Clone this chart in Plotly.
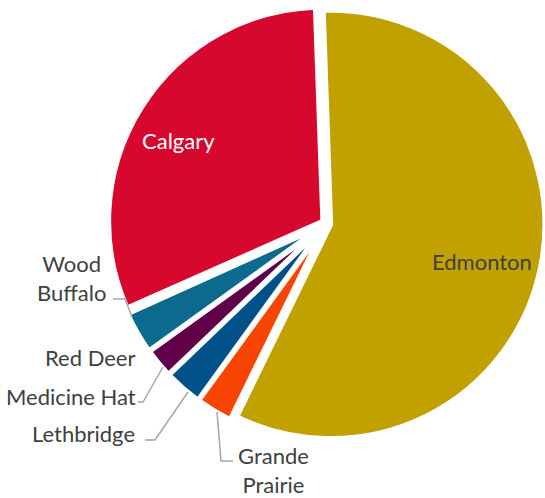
import plotly.graph_objects as go

# ---- data ----
cities = ["Edmonton", "Grande Prairie", "Lethbridge", "Medicine Hat",
          "Red Deer", "Wood Buffalo", "Calgary"]
shares = [57.8, 2.75, 2.86, 2.22, 3.19, 0.1, 31.1]
colors = ["#C1A100", "#F54500", "#00508A", "#5F0049",
          "#0B6A8E", "#E8A0B4", "#D6082E"]

W, H = 545, 498
FONT = "Lato"
FS = 22
GREY = "#404040"


def px(x, y):
    return x / W, 1 - y / H


fig = go.Figure(go.Pie(
    labels=cities, values=shares, sort=False, direction="clockwise",
    rotation=-2, pull=0.02,
    marker=dict(colors=colors, line=dict(color="white", width=5)),
    textinfo="none", hoverinfo="label+percent", showlegend=False,
    domain=dict(x=[108 / W, 1], y=[1 - 442 / H, 1 - 5 / H]),
))

labels = [
    # text, x, y, xanchor, color
    ("Calgary", 178, 141, "center", "white"),
    ("Edmonton", 482, 261, "center", GREY),
    ("Wood<br>Buffalo", 71.5, 277.5, "center", GREY),
    ("Red Deer", 137, 357, "right", GREY),
    ("Medicine Hat", 138, 396, "right", GREY),
    ("Lethbridge", 137, 433, "right", GREY),
    ("Grande<br>Prairie", 273, 470, "center", GREY),
]
annotations = []
for t, x, y, xa, c in labels:
    ax, ay = px(x, y)
    annotations.append(dict(text=t, x=ax, y=ay, xref="paper", yref="paper",
                            xanchor=xa, yanchor="middle", align=xa,
                            showarrow=False, font=dict(family=FONT, size=FS, color=c)))

leaders = [
    [(113, 299), (125, 299), (132, 317)],
    [(138, 402), (143, 402), (163, 367)],
    [(145, 440), (155, 440), (188, 392)],
    [(217, 412), (221, 461), (233, 461)],
]
shapes = []
for pts in leaders:
    path = ""
    for i, (x, y) in enumerate(pts):
        a, b = px(x, y)
        path += ("M" if i == 0 else " L") + f"{a:.5f},{b:.5f}"
    shapes.append(dict(type="path", path=path, xref="paper", yref="paper",
                       line=dict(color="#A6A6A6", width=1.5)))

fig.update_layout(
    width=W, height=H, margin=dict(l=0, r=0, t=0, b=0),
    paper_bgcolor="white", plot_bgcolor="white",
    annotations=annotations, shapes=shapes,
)

fig.write_html("out.html")
